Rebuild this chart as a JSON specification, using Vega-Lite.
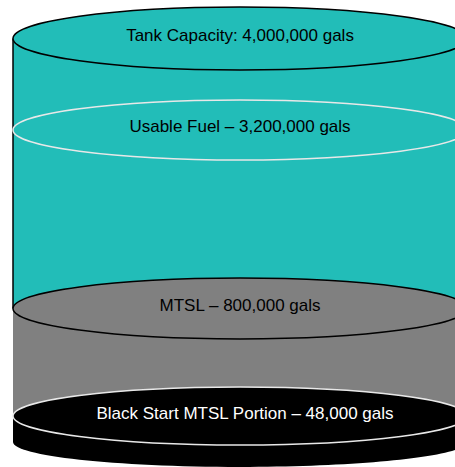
{
  "$schema": "https://vega.github.io/schema/vega-lite/v6.json",
  "width": 455,
  "height": 467,
  "padding": 0,
  "autosize": {"type": "none"},
  "config": {"view": {"stroke": null}, "axis": {"disable": true}},
  "datasets": {
    "bodies": [
      {"section": "Usable Fuel", "top": 428.5, "bottom": 158.5},
      {"section": "MTSL", "top": 158.5, "bottom": 51},
      {"section": "Black Start", "top": 51, "bottom": 25}
    ],
    "surfaces": [
      {"surface": "Base", "level": 25, "label": ""},
      {"surface": "Tank Capacity", "level": 428.5, "label": "Tank Capacity: 4,000,000 gals"},
      {"surface": "Usable Fuel", "level": 337, "label": "Usable Fuel – 3,200,000 gals"},
      {"surface": "MTSL", "level": 158.5, "label": "MTSL – 800,000 gals"},
      {"surface": "Black Start", "level": 51, "label": "Black Start MTSL Portion – 48,000 gals"}
    ]
  },
  "layer": [
    {
      "data": {"name": "bodies"},
      "mark": {"type": "rect"},
      "encoding": {
        "x": {"datum": -1, "type": "quantitative", "scale": {"domain": [-1.0573, 0.9471], "nice": false, "zero": false}},
        "x2": {"datum": 1},
        "y": {"field": "top", "type": "quantitative", "scale": {"domain": [0, 467], "nice": false, "zero": false}},
        "y2": {"field": "bottom"},
        "fill": {"field": "section", "type": "nominal", "legend": null,
          "scale": {"domain": ["Tank Capacity", "Usable Fuel", "MTSL", "Black Start", "Base"], "range": ["#22bdb8", "#22bdb8", "#808080", "#000000", "#000000"]}}
      }
    },
    {
      "data": {"name": "bodies"},
      "transform": [{"filter": "datum.section === 'Usable Fuel'"}],
      "mark": {"type": "rule", "color": "#000000", "strokeWidth": 1.5},
      "encoding": {
        "x": {"datum": -1, "type": "quantitative"},
        "y": {"field": "top", "type": "quantitative"},
        "y2": {"field": "bottom"}
      }
    },
    {
      "data": {"name": "bodies"},
      "transform": [{"filter": "datum.section === 'Usable Fuel'"}],
      "mark": {"type": "rule", "color": "#000000", "strokeWidth": 1.5},
      "encoding": {
        "x": {"datum": 1, "type": "quantitative"},
        "y": {"field": "top", "type": "quantitative"},
        "y2": {"field": "bottom"}
      }
    },
    {
      "data": {"name": "surfaces"},
      "mark": {"type": "point", "filled": true, "opacity": 1, "size": 206116, "strokeWidth": 1.5},
      "encoding": {
        "x": {"datum": 0, "type": "quantitative"},
        "y": {"field": "level", "type": "quantitative"},
        "fill": {"field": "surface", "type": "nominal", "legend": null},
        "stroke": {"field": "surface", "type": "nominal", "legend": null,
          "scale": {"domain": ["Tank Capacity", "Usable Fuel", "MTSL", "Black Start", "Base"], "range": ["#000000", "#e8e8e8", "#000000", "#e8e8e8", "transparent"]}},
        "shape": {"field": "surface", "type": "nominal", "legend": null,
          "scale": {"domain": ["Tank Capacity", "Usable Fuel", "MTSL", "Black Start", "Base"],
            "range": [
              "M-1,0C-1,-0.0767,-0.5523,-0.139,0,-0.139C0.5523,-0.139,1,-0.0767,1,0C1,0.0767,0.5523,0.139,0,0.139C-0.5523,0.139,-1,0.0767,-1,0Z",
              "M-1,0C-1,-0.0729,-0.5523,-0.132,0,-0.132C0.5523,-0.132,1,-0.0729,1,0C1,0.0729,0.5523,0.132,0,0.132C-0.5523,0.132,-1,0.0729,-1,0Z",
              "M-1,0C-1,-0.0742,-0.5523,-0.134,0,-0.134C0.5523,-0.134,1,-0.0742,1,0C1,0.0742,0.5523,0.134,0,0.134C-0.5523,0.134,-1,0.0742,-1,0Z",
              "M-1,0C-1,-0.0706,-0.5523,-0.128,0,-0.128C0.5523,-0.128,1,-0.0706,1,0C1,0.0706,0.5523,0.128,0,0.128C-0.5523,0.128,-1,0.0706,-1,0Z",
              "M-1,0C-1,-0.0608,-0.5523,-0.110,0,-0.110C0.5523,-0.110,1,-0.0608,1,0C1,0.0608,0.5523,0.110,0,0.110C-0.5523,0.110,-1,0.0608,-1,0Z"
            ]}}
      }
    },
    {
      "data": {"name": "surfaces"},
      "transform": [{"filter": "datum.surface !== 'Black Start'"}],
      "mark": {"type": "text", "font": "Liberation Sans", "fontSize": 17, "baseline": "middle", "align": "center", "dy": -3, "color": "#000000"},
      "encoding": {
        "x": {"datum": 0, "type": "quantitative"},
        "y": {"field": "level", "type": "quantitative"},
        "text": {"field": "label"}
      }
    },
    {
      "data": {"name": "surfaces"},
      "transform": [{"filter": "datum.surface === 'Black Start'"}],
      "mark": {"type": "text", "font": "Liberation Sans", "fontSize": 17, "baseline": "middle", "align": "center", "dy": -2, "dx": 5, "color": "#ffffff"},
      "encoding": {
        "x": {"datum": 0, "type": "quantitative"},
        "y": {"field": "level", "type": "quantitative"},
        "text": {"field": "label"}
      }
    }
  ]
}
